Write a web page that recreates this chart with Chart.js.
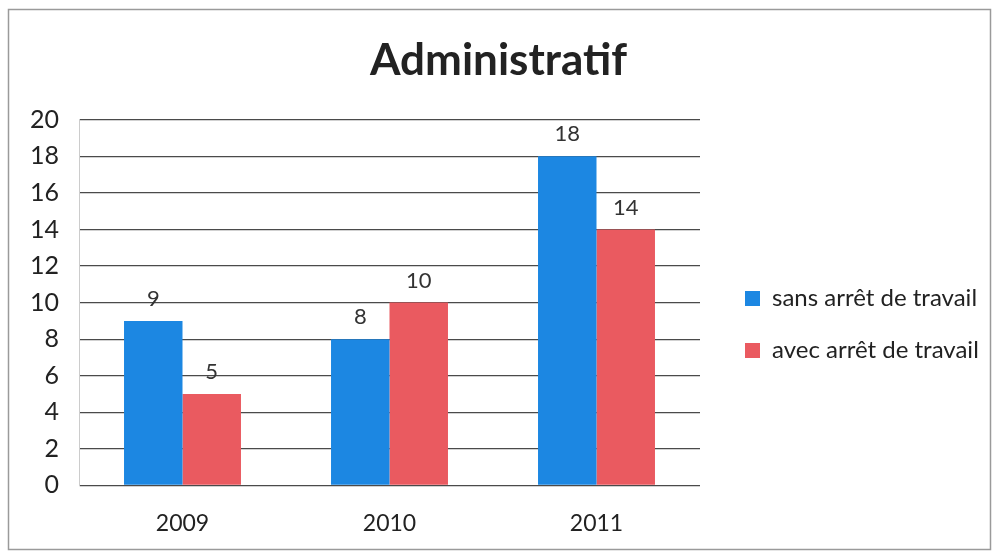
<!DOCTYPE html>
<html>
<head>
<meta charset="utf-8">
<script src="https://cdn.jsdelivr.net/npm/chart.js@4.4.0/dist/chart.umd.min.js"></script>
<style>
  body { margin: 0; background: #fff; }
  #wrap { width: 997px; height: 555px; position: relative; }
</style>
</head>
<body>
<div id="wrap"><canvas id="graph" width="997" height="555"></canvas></div>
<script>
var g_years = ["2009", "2010", "2011"];
var g_sansArret = [9, 8, 18];
var g_avecArret = [5, 10, 14];
var g_yTicks = [0, 2, 4, 6, 8, 10, 12, 14, 16, 18, 20];
var g_blue = "#1c87e2";
var g_red = "#ea5a60";
var g_font = "Lato, 'Open Sans', sans-serif";

// draws the value above each bar and the outer frame, nudges the legend
var valueLabels = {
    id: "valueLabels",
    beforeLayout: function (chart) {
        var lg = chart.legend;
        if (lg && !lg._wrapped) {
            var origFit = lg.fit;
            lg.fit = function () {
                origFit.call(this);
                this.width = 287; // keeps plot right edge near x=700
            };
            lg._wrapped = true;
        }
    },
    afterLayout: function (chart) {
        var lg = chart.legend;
        lg.left += 17;
        lg.right += 17;
        lg.top += 35;
        lg.bottom += 35;
    },
    beforeDraw: function (chart) {
        var ctx = chart.ctx;
        ctx.save();
        ctx.strokeStyle = "#9a9a9a";
        ctx.lineWidth = 1.5;
        ctx.strokeRect(8.5, 9.5, 982, 540);
        ctx.restore();
    },
    afterDatasetsDraw: function (chart) {
        var ctx = chart.ctx;
        ctx.save();
        ctx.font = "22px " + g_font;
        ctx.fillStyle = "#333";
        ctx.textAlign = "center";
        ctx.textBaseline = "bottom";
        chart.data.datasets.forEach(function (ds, i) {
            chart.getDatasetMeta(i).data.forEach(function (bar, j) {
                ctx.fillText(ds.data[j], bar.x, bar.y - 11);
            });
        });
        ctx.restore();
    }
};

var ctx = document.getElementById("graph").getContext("2d");
var g_chart = new Chart(ctx, {
    type: "bar",
    data: {
        labels: g_years,
        datasets: [
            { label: "sans arrêt de travail", data: g_sansArret, backgroundColor: g_blue },
            { label: "avec arrêt de travail", data: g_avecArret, backgroundColor: g_red }
        ]
    },
    options: {
        responsive: false,
        animation: false,
        layout: { padding: { left: 10, right: 10, top: 26, bottom: 2 } },
        plugins: {
            title: {
                display: true,
                text: "Administratif",
                color: "#222",
                font: { family: g_font, size: 44, weight: "bold" },
                padding: { top: 8, bottom: 33 }
            },
            legend: {
                position: "right",
                align: "center",
                labels: {
                    color: "#222",
                    font: { family: g_font, size: 24 },
                    boxWidth: 15,
                    boxHeight: 15,
                    padding: 28
                }
            },
            tooltip: { enabled: false }
        },
        datasets: { bar: { categoryPercentage: 0.565, barPercentage: 1.0 } },
        scales: {
            x: {
                grid: { display: false },
                border: { display: false },
                ticks: { color: "#222", font: { family: g_font, size: 23 }, padding: 16 }
            },
            y: {
                min: 0,
                max: 20,
                afterBuildTicks: function (axis) {
                    axis.ticks = g_yTicks.map(function (v) { return { value: v }; });
                },
                grid: { color: "#4a4a4a", lineWidth: 1.3, drawTicks: false },
                border: { display: true, color: "#ccc" },
                ticks: { color: "#222", font: { family: g_font, size: 25 }, padding: 20 }
            }
        }
    },
    plugins: [valueLabels]
});
</script>
</body>
</html>
